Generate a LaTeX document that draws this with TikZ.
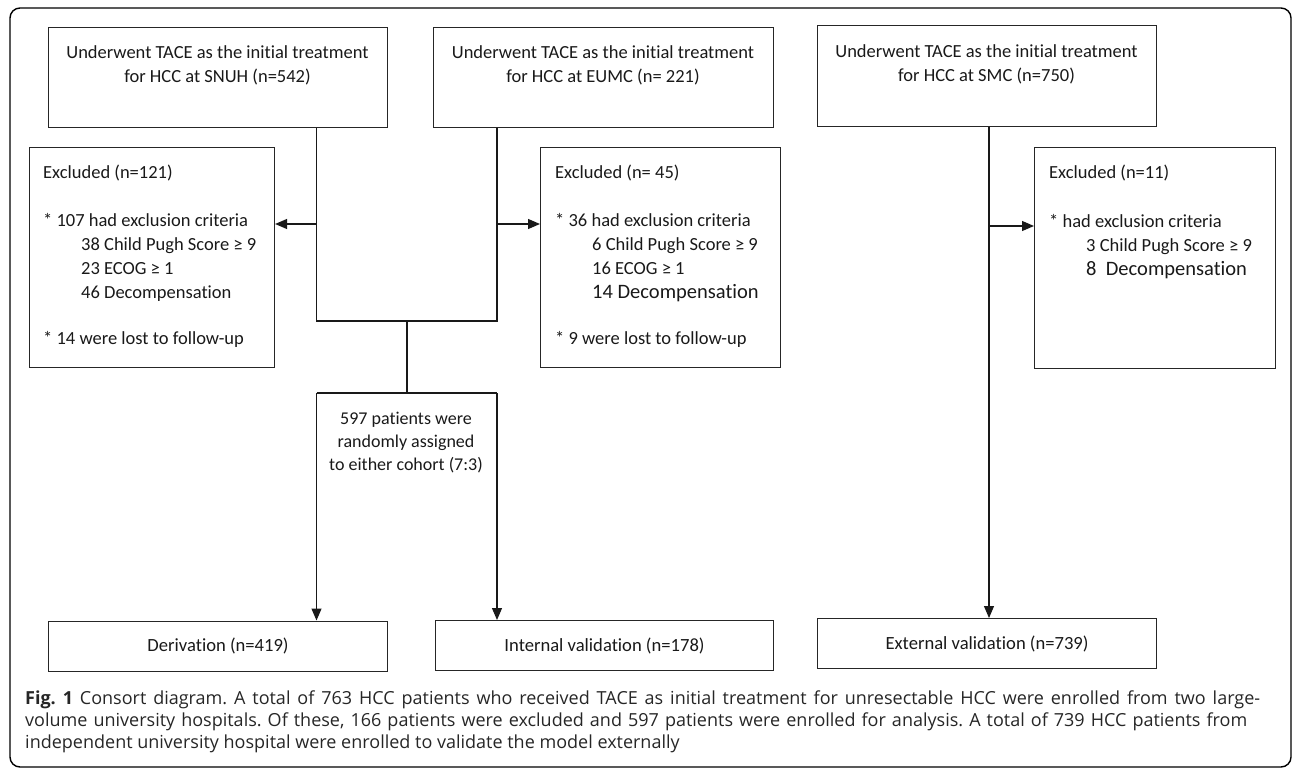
\documentclass[tikz,border=0pt]{standalone}
\usepackage{fontspec}
\setmainfont{Carlito}[Ligatures=NoCommon]
\newfontfamily\capfont{Open Sans}
\usetikzlibrary{arrows.meta,calc}
\frenchspacing
\begin{document}
\begin{tikzpicture}[x=1pt,y=-1pt,
  box/.style={draw=black!85, line width=1.1pt, inner sep=0pt, anchor=north west},
  conn/.style={draw=black!90, line width=1.2pt},
  arr/.style={conn,-{Triangle[length=12pt,width=10pt]}},
  ln/.style={inner sep=0pt, text=black!90, font=\fontsize{18.5}{24}\selectfont},
  lnc/.style={ln, anchor=base},
  lnl/.style={ln, anchor=base west},
  big/.style={inner sep=0pt, text=black!90, anchor=base west, font=\fontsize{20.5}{24}\selectfont},
  bot/.style={box, text=black!90, font=\fontsize{18.6}{22}\selectfont},
  captxt/.style={inner sep=0pt, anchor=base west, text=black!85, font=\capfont\fontsize{18}{22}\selectfont}]
\useasboundingbox (0,0) rectangle (1292,770);
\draw[line width=1.4pt, rounded corners=10pt] (10,8) rectangle (1291,767);

% top boxes
\node[box, minimum width=339pt, minimum height=100pt] (snuh) at (48,27) {};
\node[box, minimum width=340pt, minimum height=100pt] (eumc) at (433,27) {};
\node[box, minimum width=339pt, minimum height=101pt] (smc) at (817,25) {};
\node[lnc] (t1a) at (217.5,58.5) {Underwent TACE as the initial treatment};
\node[lnc] (t1b) at (217.5,82.5) {for HCC at SNUH (n=542)};
\node[lnc] (t2a) at (603,58.5) {Underwent TACE as the initial treatment};
\node[lnc] (t2b) at (603,82.5) {for HCC at EUMC (n= 221)};
\node[lnc] (t3a) at (986.5,57.5) {Underwent TACE as the initial treatment};
\node[lnc] (t3b) at (986.5,81.5) {for HCC at SMC (n=750)};

% excluded boxes
\node[box, minimum width=245pt, minimum height=220pt] (exsnuh) at (29,147) {};
\node[box, minimum width=240pt, minimum height=220pt] (exeumc) at (540,147) {};
\node[box, minimum width=241pt, minimum height=221pt] (exsmc) at (1034,147) {};

\node[lnl] (e1a) at (43,178.5) {Excluded (n=121)};
\node[lnl] (e1b) at (43,226.5) {* 107 had exclusion criteria};
\node[lnl] (e1c) at (81,250.5) {38 Child Pugh Score ≥ 9};
\node[lnl] (e1d) at (81,274.5) {23 ECOG ≥ 1};
\node[lnl] (e1e) at (81,298.5) {46 Decompensation};
\node[lnl] (e1f) at (43,344) {* 14 were lost to follow-up};

\node[lnl] (e2a) at (555,178.5) {Excluded (n= 45)};
\node[lnl] (e2b) at (555,226.5) {* 36 had exclusion criteria};
\node[lnl] (e2c) at (592,250.5) {6 Child Pugh Score ≥ 9};
\node[lnl] (e2d) at (592,274.5) {16 ECOG ≥ 1};
\node[big] (e2e) at (592,298.5) {14 Decompensation};
\node[lnl] (e2f) at (555,344) {* 9 were lost to follow-up};

\node[lnl] (e3a) at (1049,178.5) {Excluded (n=11)};
\node[lnl] (e3b) at (1049,227.5) {* had exclusion criteria};
\node[lnl] (e3c) at (1086,251.5) {3 Child Pugh Score ≥ 9};
\node[big] (e3e) at (1086,275.5) {8\ \ Decompensation};

% random assignment text
\node[lnc, font=\fontsize{18}{24}\selectfont] (r1) at (406,424.5) {597 patients were};
\node[lnc, font=\fontsize{18}{24}\selectfont] (r2) at (406,447.5) {randomly assigned};
\node[lnc, font=\fontsize{18}{24}\selectfont] (r3) at (406,470.5) {to either cohort (7:3)};

% bottom boxes
\node[bot, minimum width=339pt, minimum height=50pt] (deriv) at (48,620.5) {Derivation (n=419)};
\node[bot, minimum width=338pt, minimum height=50pt] (internal) at (435,620) {Internal validation (n=178)};
\node[bot, minimum width=339pt, minimum height=50pt] (external) at (817,618) {External validation (n=739)};

% connectors
\coordinate (jL) at (316.5,321);
\coordinate (jR) at (497,321);
\coordinate (jC) at (407,321);
\coordinate (sL) at (316.5,393);
\coordinate (sR) at (497,393);
\coordinate (sC) at (407,393);
\coordinate (aL) at (316.5,224);
\coordinate (aR) at (497,224);
\coordinate (aS) at (989,226);
\draw[conn] (snuh.south -| jL) -- (jL) -- (jR) -- (eumc.south -| jR);
\draw[conn] (jC) -- (sC);
\draw[conn] (sL) -- (sR);
\draw[arr] (sL) -- (deriv.north -| sL);
\draw[arr] (sR) -- (internal.north -| sR);
\draw[arr] (aL) -- (exsnuh.east |- aL);
\draw[arr] (aR) -- (exeumc.west |- aR);
\draw[arr] (smc.south -| aS) -- (external.north -| aS);
\draw[arr] (aS) -- (exsmc.west |- aS);

% caption
\node[captxt] (c1) at (25,704) {\makebox[1235pt][s]{\textbf{Fig.~1} Consort diagram. A total of 763 HCC patients who received TACE as initial treatment for unresectable HCC were enrolled from two large-}};
\node[captxt] (c2) at (25,726) {\makebox[1222pt][s]{volume university hospitals. Of these, 166 patients were excluded and 597 patients were enrolled for analysis. A total of 739 HCC patients from}};
\node[captxt] (c3) at (25,748) {independent university hospital were enrolled to validate the model externally};
\end{tikzpicture}
\end{document}
